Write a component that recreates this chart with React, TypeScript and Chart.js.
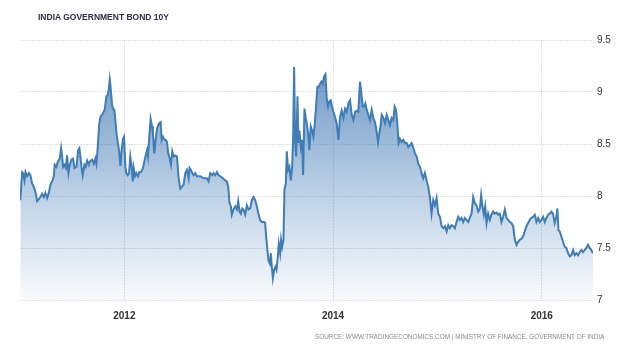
import React, { useEffect, useRef } from "react";
import { Chart, registerables } from "chart.js";

Chart.register(...registerables);

const TITLE = "INDIA GOVERNMENT BOND 10Y";
const SOURCE = "SOURCE: WWW.TRADINGECONOMICS.COM | MINISTRY OF FINANCE, GOVERNMENT OF INDIA";

const yearTicks = [2012, 2014, 2016];
const yieldTicks = [7, 7.5, 8, 8.5, 9, 9.5];

const dates = [
  2011.003, 2011.021, 2011.030, 2011.043, 2011.053, 2011.069, 2011.085, 2011.100, 2011.116, 2011.132,
  2011.148, 2011.164, 2011.180, 2011.196, 2011.212, 2011.228, 2011.244, 2011.260, 2011.276, 2011.292,
  2011.308, 2011.324, 2011.333, 2011.349, 2011.362, 2011.381, 2011.394, 2011.404, 2011.413, 2011.426,
  2011.439, 2011.451, 2011.464, 2011.477, 2011.493, 2011.509, 2011.522, 2011.541, 2011.557, 2011.569,
  2011.579, 2011.589, 2011.601, 2011.617, 2011.630, 2011.643, 2011.659, 2011.668, 2011.691, 2011.707,
  2011.722, 2011.732, 2011.745, 2011.758, 2011.770, 2011.786, 2011.802, 2011.812, 2011.828, 2011.841,
  2011.850, 2011.860, 2011.869, 2011.882, 2011.892, 2011.904, 2011.914, 2011.923, 2011.936, 2011.949,
  2011.962, 2011.974, 2011.987, 2011.997, 2012.010, 2012.019, 2012.032, 2012.045, 2012.057, 2012.067,
  2012.080, 2012.089, 2012.102, 2012.115, 2012.131, 2012.144, 2012.159, 2012.179, 2012.191, 2012.204,
  2012.217, 2012.226, 2012.239, 2012.252, 2012.265, 2012.274, 2012.287, 2012.300, 2012.313, 2012.325,
  2012.335, 2012.348, 2012.357, 2012.370, 2012.383, 2012.396, 2012.408, 2012.421, 2012.434, 2012.447,
  2012.459, 2012.472, 2012.485, 2012.504, 2012.520, 2012.536, 2012.552, 2012.568, 2012.584, 2012.600,
  2012.616, 2012.625, 2012.638, 2012.651, 2012.663, 2012.679, 2012.695, 2012.727, 2012.759, 2012.791,
  2012.807, 2012.823, 2012.842, 2012.855, 2012.871, 2012.887, 2012.903, 2012.919, 2012.944, 2012.967,
  2012.982, 2012.995, 2013.008, 2013.021, 2013.030, 2013.046, 2013.062, 2013.078, 2013.091, 2013.104,
  2013.116, 2013.129, 2013.142, 2013.158, 2013.174, 2013.190, 2013.206, 2013.222, 2013.238, 2013.254,
  2013.270, 2013.285, 2013.301, 2013.317, 2013.340, 2013.349, 2013.359, 2013.368, 2013.381, 2013.394,
  2013.404, 2013.413, 2013.423, 2013.435, 2013.448, 2013.458, 2013.467, 2013.480, 2013.493, 2013.502,
  2013.512, 2013.525, 2013.534, 2013.547, 2013.557, 2013.569, 2013.582, 2013.595, 2013.608, 2013.617,
  2013.627, 2013.636, 2013.646, 2013.659, 2013.668, 2013.678, 2013.691, 2013.703, 2013.713, 2013.726,
  2013.738, 2013.748, 2013.761, 2013.773, 2013.786, 2013.799, 2013.812, 2013.825, 2013.837, 2013.850,
  2013.863, 2013.876, 2013.888, 2013.901, 2013.914, 2013.927, 2013.939, 2013.952, 2013.965, 2013.978,
  2013.990, 2014.003, 2014.019, 2014.035, 2014.051, 2014.067, 2014.083, 2014.099, 2014.115, 2014.131,
  2014.147, 2014.163, 2014.179, 2014.195, 2014.211, 2014.226, 2014.242, 2014.258, 2014.271, 2014.284,
  2014.297, 2014.309, 2014.322, 2014.338, 2014.354, 2014.370, 2014.386, 2014.402, 2014.418, 2014.431,
  2014.443, 2014.456, 2014.466, 2014.482, 2014.498, 2014.514, 2014.530, 2014.545, 2014.561, 2014.577,
  2014.590, 2014.603, 2014.616, 2014.628, 2014.641, 2014.657, 2014.673, 2014.689, 2014.705, 2014.721,
  2014.737, 2014.753, 2014.769, 2014.785, 2014.801, 2014.817, 2014.833, 2014.848, 2014.864, 2014.880,
  2014.896, 2014.912, 2014.928, 2014.944, 2014.960, 2014.976, 2014.992, 2015.008, 2015.024, 2015.040,
  2015.056, 2015.072, 2015.088, 2015.104, 2015.120, 2015.136, 2015.152, 2015.167, 2015.183, 2015.199,
  2015.215, 2015.231, 2015.247, 2015.263, 2015.279, 2015.295, 2015.311, 2015.327, 2015.343, 2015.359,
  2015.375, 2015.391, 2015.407, 2015.419, 2015.432, 2015.445, 2015.458, 2015.471, 2015.486, 2015.502,
  2015.518, 2015.534, 2015.550, 2015.566, 2015.582, 2015.598, 2015.614, 2015.630, 2015.646, 2015.662,
  2015.678, 2015.694, 2015.710, 2015.726, 2015.742, 2015.758, 2015.774, 2015.790, 2015.805, 2015.821,
  2015.837, 2015.853, 2015.869, 2015.885, 2015.901, 2015.917, 2015.933, 2015.949, 2015.965, 2015.981,
  2015.997, 2016.013, 2016.029, 2016.045, 2016.061, 2016.077, 2016.093, 2016.108, 2016.124, 2016.140,
  2016.150, 2016.160, 2016.172, 2016.188, 2016.204, 2016.220, 2016.236, 2016.252, 2016.268, 2016.284,
  2016.300, 2016.316, 2016.332, 2016.348, 2016.364, 2016.380, 2016.396, 2016.411, 2016.427, 2016.443,
  2016.459, 2016.475, 2016.491,
];

const yields = [
  7.96, 8.23, 8.22, 8.15, 8.23, 8.19, 8.22, 8.20, 8.12, 8.09,
  8.04, 7.95, 7.97, 7.99, 8.02, 7.99, 8.03, 7.98, 8.03, 8.11,
  8.14, 8.19, 8.30, 8.28, 8.33, 8.36, 8.46, 8.38, 8.28, 8.30,
  8.27, 8.39, 8.22, 8.30, 8.35, 8.36, 8.27, 8.28, 8.44, 8.46,
  8.38, 8.28, 8.20, 8.30, 8.28, 8.34, 8.30, 8.33, 8.35, 8.31,
  8.36, 8.31, 8.47, 8.68, 8.76, 8.78, 8.81, 8.83, 8.96, 8.97,
  9.02, 9.12, 9.04, 8.88, 8.84, 8.83, 8.73, 8.62, 8.52, 8.44,
  8.29, 8.44, 8.55, 8.57, 8.28, 8.22, 8.20, 8.22, 8.38, 8.31,
  8.14, 8.27, 8.19, 8.22, 8.19, 8.23, 8.23, 8.27, 8.33, 8.39,
  8.44, 8.38, 8.57, 8.74, 8.67, 8.60, 8.41, 8.54, 8.65, 8.68,
  8.70, 8.71, 8.54, 8.57, 8.54, 8.54, 8.52, 8.41, 8.36, 8.30,
  8.43, 8.38, 8.39, 8.38, 8.17, 8.07, 8.09, 8.11, 8.22, 8.25,
  8.17, 8.27, 8.25, 8.22, 8.20, 8.22, 8.19, 8.19, 8.17, 8.17,
  8.14, 8.22, 8.20, 8.22, 8.20, 8.23, 8.20, 8.19, 8.17, 8.15,
  8.14, 8.09, 7.93, 7.90, 7.82, 7.87, 7.90, 7.87, 7.95, 7.85,
  7.83, 7.88, 7.87, 7.82, 7.91, 7.87, 7.88, 7.96, 7.99, 7.96,
  7.90, 7.83, 7.77, 7.75, 7.75, 7.74, 7.61, 7.51, 7.38, 7.35,
  7.45, 7.32, 7.21, 7.29, 7.32, 7.29, 7.38, 7.54, 7.45, 7.58,
  7.51, 7.58, 8.06, 8.12, 8.43, 8.25, 8.28, 8.15, 8.28, 8.54,
  9.24, 8.54, 8.38, 8.96, 8.51, 8.63, 8.47, 8.54, 8.20, 8.84,
  8.75, 8.70, 8.60, 8.44, 8.67, 8.63, 8.57, 8.70, 8.86, 9.05,
  9.05, 9.08, 9.10, 9.08, 9.15, 9.17, 8.94, 8.86, 8.91, 8.92,
  8.86, 8.81, 8.76, 8.70, 8.54, 8.76, 8.82, 8.75, 8.84, 8.81,
  8.89, 8.92, 8.78, 8.73, 8.81, 8.82, 8.81, 9.10, 8.99, 8.86,
  8.86, 8.89, 8.83, 8.78, 8.73, 8.83, 8.75, 8.71, 8.62, 8.52,
  8.60, 8.68, 8.78, 8.75, 8.70, 8.78, 8.73, 8.68, 8.75, 8.73,
  8.86, 8.83, 8.70, 8.51, 8.55, 8.52, 8.54, 8.51, 8.51, 8.47,
  8.49, 8.51, 8.46, 8.41, 8.38, 8.31, 8.28, 8.22, 8.17, 8.22,
  8.15, 8.09, 7.99, 7.83, 7.96, 7.91, 7.98, 7.83, 7.80, 7.71,
  7.69, 7.71, 7.66, 7.72, 7.69, 7.72, 7.71, 7.69, 7.75, 7.80,
  7.77, 7.79, 7.75, 7.79, 7.77, 7.75, 7.79, 7.83, 7.99, 7.93,
  7.91, 7.85, 7.88, 8.01, 7.90, 7.82, 7.90, 7.74, 7.83, 7.77,
  7.82, 7.85, 7.83, 7.84, 7.82, 7.83, 7.75, 7.80, 7.87, 7.79,
  7.77, 7.75, 7.74, 7.71, 7.58, 7.53, 7.56, 7.58, 7.59, 7.61,
  7.66, 7.71, 7.74, 7.77, 7.79, 7.80, 7.82, 7.75, 7.79, 7.75,
  7.77, 7.80, 7.75, 7.79, 7.82, 7.83, 7.85, 7.83, 7.74, 7.80,
  7.88, 7.67, 7.66, 7.61, 7.56, 7.51, 7.50, 7.45, 7.42, 7.43,
  7.48, 7.43, 7.45, 7.43, 7.46, 7.48, 7.46, 7.48, 7.50, 7.53,
  7.50, 7.48, 7.45,
];

export default function App() {
  const canvasRef = useRef<HTMLCanvasElement | null>(null);
  const srcRef = useRef<HTMLSpanElement | null>(null);

  useEffect(() => {
    const canvas = canvasRef.current;
    if (!canvas) return;
    const points = dates.map((d, i) => ({ x: d, y: yields[i] }));
    const gridDash = [2, 1];
    const gridColor = "#e0e0e0";
    const chart = new Chart(canvas, {
      type: "line",
      data: {
        datasets: [
          {
            data: points,
            borderColor: "#3f7db6",
            borderWidth: 2,
            pointRadius: 0,
            tension: 0,
            fill: "start",
            backgroundColor: (ctx: any) => {
              const { chart } = ctx;
              const area = chart.chartArea;
              if (!area) return "rgba(63,125,182,0.4)";
              const g = chart.ctx.createLinearGradient(0, area.top, 0, area.bottom);
              g.addColorStop(0, "rgba(55,115,178,0.82)");
              g.addColorStop(0.6, "rgba(55,115,178,0.32)");
              g.addColorStop(1, "rgba(55,115,178,0.03)");
              return g;
            },
          },
        ],
      },
      options: {
        responsive: false,
        animation: false,
        layout: { padding: { left: 20, right: 0, top: 40, bottom: 0 } },
        plugins: { legend: { display: false }, tooltip: { enabled: false }, title: { display: false } },
        scales: {
          x: {
            type: "linear",
            min: 2011.0,
            max: 2016.491,
            afterBuildTicks: (scale: any) => {
              scale.ticks = yearTicks.map((v) => ({ value: v }));
            },
            afterFit: (scale: any) => {
              scale.height = 51;
            },
            grid: { color: gridColor, drawTicks: false, lineWidth: 1 },
            border: { display: false, dash: gridDash },
            ticks: {
              padding: 10,
              color: "#333333",
              font: { family: "'Liberation Sans', Arial, sans-serif", size: 10, weight: "bold" },
              callback: (v: any) => String(v),
              maxRotation: 0,
            },
          },
          y: {
            type: "linear",
            position: "right",
            min: 7,
            max: 9.5,
            afterBuildTicks: (scale: any) => {
              scale.ticks = yieldTicks.map((v) => ({ value: v }));
            },
            afterFit: (scale: any) => {
              scale.width = 47;
            },
            grid: { color: gridColor, drawTicks: false, lineWidth: 1 },
            border: { display: false, dash: gridDash },
            ticks: {
              padding: 4,
              color: "#333333",
              font: { family: "'Liberation Sans', Arial, sans-serif", size: 10 },
              callback: (v: any) => String(v),
            },
          },
        },
      },
    });

    const span = srcRef.current;
    if (span) {
      const w = span.offsetWidth;
      if (w > 0) span.style.transform = `scaleX(${289 / w})`;
    }

    return () => chart.destroy();
  }, []);

  return (
    <div style={{ position: "absolute", left: 0, top: 0, width: 640, height: 351, background: "#fff", overflow: "hidden" }}>
      <canvas ref={canvasRef} width={640} height={351} style={{ display: "block", width: 640, height: 351 }} />
      <div
        style={{
          position: "absolute",
          left: 38,
          top: 12,
          fontFamily: "'Liberation Sans', Arial, sans-serif",
          fontWeight: "bold",
          fontSize: 8.5,
          lineHeight: "10px",
          color: "#2e2e48",
          whiteSpace: "nowrap",
        }}
      >
        {TITLE}
      </div>
      <div
        style={{
          position: "absolute",
          right: 36,
          top: 332,
          height: 10,
          display: "flex",
          alignItems: "center",
          justifyContent: "flex-end",
          lineHeight: "10px",
          whiteSpace: "nowrap",
        }}
      >
        <span
          ref={srcRef}
          style={{
            display: "inline-block",
            transformOrigin: "right center",
            fontFamily: "'Liberation Sans', Arial, sans-serif",
            fontSize: 7.5,
            lineHeight: "10px",
            color: "#8a8a8a",
          }}
        >
          {SOURCE}
        </span>
      </div>
    </div>
  );
}
